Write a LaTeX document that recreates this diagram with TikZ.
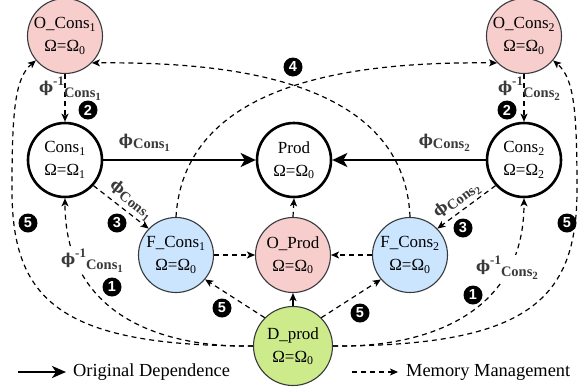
\documentclass[tikz,border=0pt]{standalone}
\usepackage{fontspec}
\setmainfont{Liberation Serif}
\setsansfont{Liberation Sans}
\newfontfamily\phifont{DejaVu Serif}
\usetikzlibrary{arrows.meta}
\definecolor{pinkf}{HTML}{F8CECC}
\definecolor{bluef}{HTML}{CCE5FF}
\definecolor{greenf}{HTML}{CDEB8B}
\definecolor{bord}{HTML}{36393D}
\definecolor{lblc}{HTML}{3A3A3A}
\newcommand{\phig}{{\phifont\bfseries\fontsize{15}{15}\selectfont ϕ}}
\newcommand{\phis}[1]{\phig\raisebox{-3.5pt}{\fontsize{14.5}{14}\selectfont Cons\raisebox{-3pt}{\fontsize{11}{11}\selectfont #1}}}
\newcommand{\phinv}[1]{\phig\raisebox{7pt}{\fontsize{13}{13}\selectfont -1}\raisebox{-5pt}{\fontsize{14.5}{14}\selectfont Cons\raisebox{-3pt}{\fontsize{11}{11}\selectfont #1}}}
\newcommand{\twol}[2]{#1\\[1pt]Ω=Ω\textsubscript{#2}}
\begin{document}
\begin{tikzpicture}[x=1pt,y=-1pt,
  mainc/.style={circle, draw=black, line width=2.6pt, minimum size=74pt, inner sep=0pt, align=center, font=\fontsize{17}{22}\selectfont},
  colc/.style={circle, draw=bord, line width=1.1pt, minimum size=75pt, inner sep=0pt, align=center, font=\fontsize{17}{22}\selectfont},
  badge/.style={circle, fill=black, minimum size=19pt, inner sep=0pt, text=white, font=\sffamily\bfseries\fontsize{14.5}{14.5}\selectfont},
  dep/.style={line width=2.6pt, -{Stealth[length=15pt,width=14pt,inset=4pt]}},
  mem/.style={line width=1.2pt, dash pattern=on 5pt off 4pt, -{Stealth[length=8pt,width=7pt,inset=2pt]}},
  solarr/.style={line width=1.2pt, -{Stealth[length=8pt,width=7pt,inset=2pt]}},
  lab/.style={text=lblc, font=\bfseries, inner sep=1pt},
  legtext/.style={font=\fontsize{18.4}{20}\selectfont, anchor=west, inner sep=0pt}
]
\useasboundingbox (0,0) rectangle (581,389);
% nodes
\node[colc, fill=pinkf] (OC1) at (65,36) {\twol{O\_Cons\textsubscript{1}}{0}};
\node[colc, fill=pinkf] (OC2) at (524,36) {\twol{O\_Cons\textsubscript{2}}{0}};
\node[mainc] (C1) at (65,160) {\twol{Cons\textsubscript{1}}{1}};
\node[mainc] (P) at (294,160) {\twol{Prod}{0}};
\node[mainc] (C2) at (524,160) {\twol{Cons\textsubscript{2}}{2}};
\node[colc, fill=bluef] (F1) at (176,255) {\twol{F\_Cons\textsubscript{1}}{0}};
\node[colc, fill=pinkf] (OP) at (293,255) {\twol{O\_Prod}{0}};
\node[colc, fill=bluef] (F2) at (410,255) {\twol{F\_Cons\textsubscript{2}}{0}};
\node[colc, fill=greenf, minimum size=79pt] (D) at (293,346) {\twol{D\_prod}{0}};
% original dependences
\draw[dep] (C1.east) -- node[lab, above=6pt, pos=0.27] {\phis{1}} (P.west);
\draw[dep] (C2.west) -- node[lab, above=6pt, pos=0.27] {\phis{2}} (P.east);
% memory management
\draw[mem] (OC1.south) -- node[lab, pos=0.3, xshift=5pt] {\phinv{1}} (C1.north);
\draw[mem] (OC2.south) -- node[lab, pos=0.3, xshift=5pt] {\phinv{2}} (C2.north);
\draw[mem] (C1.-42) -- node[lab, sloped, above=1pt, pos=0.55] {\phis{1}} (F1.136);
\draw[mem] (C2.222) -- node[lab, sloped, above=1pt, pos=0.55] {\phis{2}} (F2.44);
\draw[mem] (F1.east) -- (OP.west);
\draw[mem] (F2.west) -- (OP.east);
\draw[mem] (OP.north) -- (P.south);
\draw[solarr] (D.north) -- (OP.south);
\draw[mem] (D.135) -- (F1.-40);
\draw[mem] (D.45) -- (F2.220);
% long curves
\draw[mem] (F1.north) .. controls (185,72) and (380,62) .. (OC2.225);
\draw[mem] (F2.north) .. controls (404,72) and (209,62) .. (OC1.-45);
\draw[mem] (D.west) .. controls (170,348) and (65,320) .. (C1.south);
\draw[mem] (D.east) .. controls (416,348) and (524,320) .. (C2.south);
\draw[mem] (D.west) .. controls (60,346) and (12,300) .. (12,190) .. controls (12,110) and (15,78) .. (OC1.220);
\draw[mem] (D.east) .. controls (528,346) and (577,300) .. (577,190) .. controls (577,110) and (574,78) .. (OC2.-40);
% curve labels
\node[lab, fill=white] (L1) at (92,261) {\phinv{1}};
\node[lab, fill=white] (L2) at (507,268) {\phinv{2}};
% badges
\node[badge] (b2a) at (88,110) {2};
\node[badge] (b2b) at (507,110) {2};
\node[badge] (b3a) at (117,223) {3};
\node[badge] (b3b) at (463,228) {3};
\node[badge] (b1a) at (112,287) {1};
\node[badge] (b1b) at (473,295) {1};
\node[badge] (b5a) at (28,223) {5};
\node[badge] (b5b) at (567,223) {5};
\node[badge] (b5c) at (222,308) {5};
\node[badge] (b5d) at (360,313) {5};
\node[badge] (b4) at (293,67) {4};
% legend
\coordinate (la) at (18,372);
\coordinate (lb) at (66,372);
\draw[line width=2.6pt, -{Stealth[length=14pt,width=12pt,inset=4pt]}] (la) -- (lb);
\node[legtext] (lt1) at (73,372) {Original Dependence};
\coordinate (lc) at (352,372);
\coordinate (ld) at (398,372);
\draw[mem] (lc) -- (ld);
\node[legtext] (lt2) at (406,372) {Memory Management};
\end{tikzpicture}
\end{document}
